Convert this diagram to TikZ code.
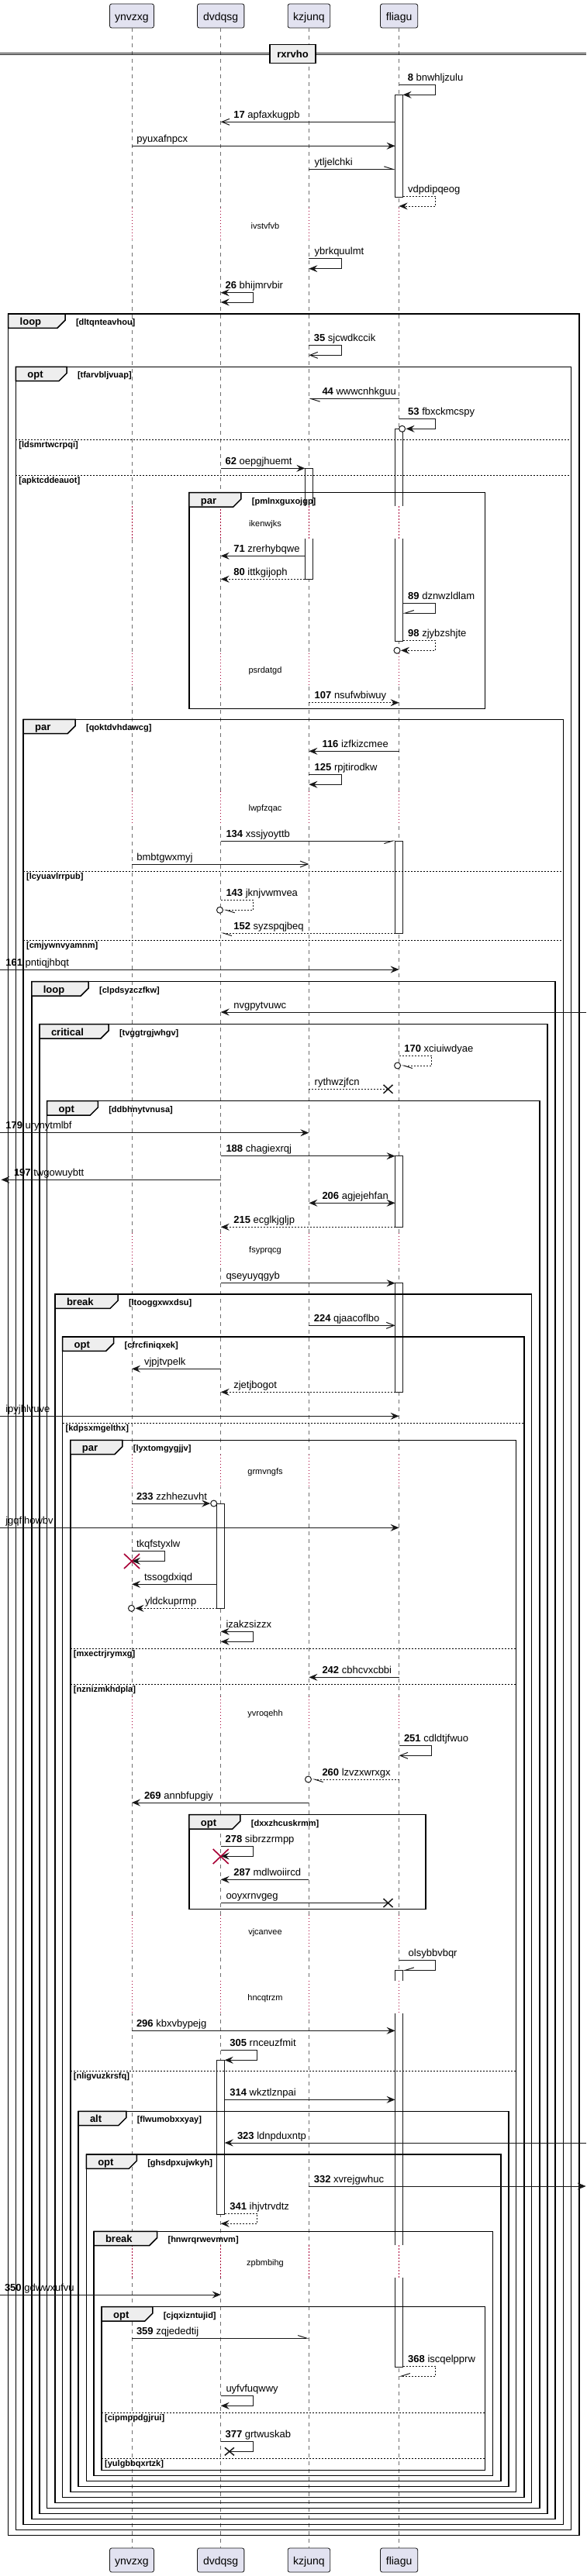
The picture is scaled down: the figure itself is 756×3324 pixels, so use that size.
\documentclass[tikz,border=0pt]{standalone}
\usepackage{fontspec}
\setmainfont{Liberation Sans}
\usetikzlibrary{arrows.meta}
\definecolor{linec}{HTML}{181818}
\definecolor{lifec}{HTML}{707070}
\definecolor{partfill}{HTML}{E2E2F0}
\definecolor{tabfill}{HTML}{EEEEEE}
\definecolor{delayc}{HTML}{A80036}
\tikzset{
 every node/.style={inner sep=0pt, outer sep=0pt},
 lifel/.style={draw=lifec, line width=0.7pt, dash pattern=on 5pt off 5pt},
 delayl/.style={draw=delayc, line width=0.9pt, dash pattern=on 1.2pt off 2.8pt},
 actb/.style={draw=linec, fill=white, line width=0.8pt},
 msg/.style={draw=linec, line width=1pt},
 dmsg/.style={msg, dash pattern=on 2pt off 2pt},
 fa/.style={-{Stealth[length=11pt,width=9pt,inset=4pt]}},
 fab/.style={{Stealth[length=11pt,width=9pt,inset=4pt]}-{Stealth[length=11pt,width=9pt,inset=4pt]}},
 oa/.style={-{Straight Barb[length=10pt,width=8pt]}},
 hl/.style={-{Straight Barb[harpoon,length=11pt,width=7pt]}},
 hr/.style={-{Straight Barb[harpoon,swap,length=11pt,width=7pt]}},
 mtxt/.style={font=\fontsize{13}{15}\selectfont, anchor=base west},
 dtxt/.style={font=\fontsize{11}{13}\selectfont, anchor=base},
 flab/.style={font=\bfseries\fontsize{13}{15}\selectfont, anchor=base west},
 glab/.style={font=\bfseries\fontsize{11}{13}\selectfont, anchor=base west},
 fragline/.style={draw=black, line width=1.5pt},
 sepl/.style={draw=black, line width=0.8pt, dash pattern=on 2pt off 2pt},
 part/.style={draw=linec, fill=partfill, line width=0.8pt, rounded corners=2.5pt, minimum height=31pt, font=\fontsize{14}{16}\selectfont, text height=14.4pt, text depth=2pt},
 xl/.style={draw=linec, line width=1.5pt},
 rxl/.style={draw=delayc, line width=1.6pt},
}
\newcommand{\hmsg}[6]{\draw[#1] (#2,#4) -- (#3,#4); \node[mtxt] at (#5,#4-5) {#6};}
\newcommand{\smsg}[8]{\draw[#1] (#2,#3) -- (#4,#3) -- (#4,#5) -- (#6,#5); \node[mtxt] at (#7,#3-5) {#8};}
\newcommand{\tipcirc}[2]{\draw[msg, fill=white] (#1,#2) circle[radius=4pt];}
\newcommand{\lostx}[2]{\draw[xl] (#1-6,#2-5.5) -- (#1+6,#2+5.5) (#1-6,#2+5.5) -- (#1+6,#2-5.5);}
\newcommand{\destroyx}[2]{\draw[rxl] (#1-10,#2-9.5) -- (#1+10,#2+9.5) (#1-10,#2+9.5) -- (#1+10,#2-9.5);}
\newcommand{\delayseg}[4]{%
  \foreach \lx in {170,284.7,398.4,514.6} {\fill[white] (\lx-6,#1) rectangle (\lx+6,#2); \draw[delayl] (\lx,#1) -- (\lx,#2);}
  \node[dtxt] at (342,#3+4.5) {#4};}
\newcommand{\fragbox}[7]{%
  \pgfmathsetmacro{\fragTR}{#1+#5}%
  \pgfmathsetmacro{\fragTS}{#1+#5-10}%
  \pgfmathsetmacro{\fragTA}{#2+8.3}%
  \pgfmathsetmacro{\fragTB}{#2+18.3}%
  \pgfmathsetmacro{\fragLX}{#1+15}%
  \pgfmathsetmacro{\fragLY}{#2+14.3}%
  \pgfmathsetmacro{\fragGX}{#1+#5+14}%
  \draw[fragline] (#1,#2) rectangle (#3,#4);
  \filldraw[fragline, fill=tabfill] (#1,#2) -- (\fragTR,#2) -- (\fragTR,\fragTA) -- (\fragTS,\fragTB) -- (#1,\fragTB) -- cycle;
  \node[flab] at (\fragLX,\fragLY) {#6};
  \node[glab] at (\fragGX,\fragLY) {#7};}
\newcommand{\fragsep}[4]{%
  \draw[sepl] (#1,#3) -- (#2,#3);
  \node[glab] at (#1+4,#3+10.4) {#4};}
\begin{document}
\begin{tikzpicture}[x=1pt,y=-1pt]
\fill[white] (0,0) rectangle (756,3324);
\useasboundingbox (0,0) rectangle (756,3324);
% participants
\node[part, minimum width=56.9pt] (p1) at (170,20.5) {ynvzxg};
\node[part, minimum width=60.3pt] (p2) at (284.7,20.5) {dvdqsg};
\node[part, minimum width=54.5pt] (p3) at (398.4,20.5) {kzjunq};
\node[part, minimum width=48.1pt] (p4) at (514.6,20.5) {fliagu};
\node[part, minimum width=56.9pt] (q1) at (170,3303.5) {ynvzxg};
\node[part, minimum width=60.3pt] (q2) at (284.7,3303.5) {dvdqsg};
\node[part, minimum width=54.5pt] (q3) at (398.4,3303.5) {kzjunq};
\node[part, minimum width=48.1pt] (q4) at (514.6,3303.5) {fliagu};
\draw[lifel] (p1.south) -- (q1.north);
\draw[lifel] (p2.south) -- (q2.north);
\draw[lifel] (p3.south) -- (q3.north);
\draw[lifel] (p4.south) -- (q4.north);
% divider
\draw[linec, line width=1pt] (0,68.3) -- (756,68.3) (0,71) -- (756,71);
\node[draw=black, line width=1.5pt, fill=tabfill, minimum width=59pt, minimum height=24.4pt, font=\bfseries\fontsize{13}{15}\selectfont] (divd) at (377.5,69.5) {rxrvho};
% activations
\draw[actb] (509.6,122.3) rectangle (519.6,254);
\draw[actb] (509.6,553.3) rectangle (519.6,827.3);
\draw[actb] (393.4,604.3) rectangle (403.4,747.3);
\draw[actb] (509.6,1085) rectangle (519.6,1204);
\draw[actb] (509.6,1491.7) rectangle (519.6,1583.3);
\draw[actb] (509.6,1655.7) rectangle (519.6,1796.3);
\draw[actb] (279.7,1940) rectangle (289.7,2075.3);
\draw[actb] (509.6,2542.3) rectangle (519.6,3054);
\draw[actb] (279.7,2658.3) rectangle (289.7,2857);
% delays
\delayseg{268}{310}{291}{ivstvfvb}
\delayseg{653.3}{695}{675}{ikenwjks}
\delayseg{843}{885}{864.3}{psrdatgd}
\delayseg{1021}{1063}{1042.3}{lwpfzqac}
\delayseg{1591}{1633}{1612.3}{fsyprqcg}
\delayseg{1877}{1919}{1898.3}{grmvngfs}
\delayseg{2189}{2231}{2210}{yvroqehh}
\delayseg{2471}{2513}{2492.3}{vjcanvee}
\delayseg{2556}{2598}{2577.3}{hncqtrzm}
\delayseg{2897.3}{2939.3}{2919.3}{zpbmbihg}
% fragments
\fragbox{10.7}{405}{746.8}{3271.3}{73.3}{loop}{[dltqnteavhou]}
\fragbox{20.4}{473.3}{736.6}{3264.3}{65.6}{opt}{[tfarvbljvuap]}
\fragsep{20.4}{736.6}{567.3}{[ldsmrtwcrpqi]}
\fragsep{20.4}{736.6}{613.3}{[apktcddeauot]}
\fragbox{243.9}{635.7}{625.4}{914.3}{67}{par}{[pmlnxguxojgp]}
\fragbox{30.1}{928.3}{726.4}{3257.3}{67}{par}{[qoktdvhdawcg]}
\fragsep{30.1}{726.4}{1124}{[lcyuavlrrpub]}
\fragsep{30.1}{726.4}{1213.3}{[cmjywnvyamnm]}
\fragbox{40.8}{1266.7}{716.2}{3250.3}{73.4}{loop}{[clpdsyzczfkw]}
\fragbox{51}{1321.7}{706}{3243.3}{89}{critical}{[tvggtrgjwhgv]}
\fragbox{60.7}{1420.7}{695.8}{3236.3}{65.6}{opt}{[ddbhnytvnusa]}
\fragbox{71}{1670}{685.6}{3229.3}{81}{break}{[ltooggxwxdsu]}
\fragbox{80.7}{1725}{676}{3222.3}{66}{opt}{[cfrcfiniqxek]}
\fragsep{80.7}{676}{1836.3}{[kdpsxmgelthx]}
\fragbox{90.9}{1858.3}{665.7}{3215.3}{67}{par}{[lyxtomgygjjv]}
\fragsep{90.9}{665.7}{2127.3}{[mxectrjrymxg]}
\fragsep{90.9}{665.7}{2173.3}{[nznizmkhdpla]}
\fragsep{90.9}{665.7}{2672.3}{[nligvuzkrsfq]}
\fragbox{243.9}{2341.7}{549}{2463.3}{66}{opt}{[dxxzhcuskrmm]}
\fragbox{101}{2724.3}{656}{3208.3}{61.8}{alt}{[flwumobxxyay]}
\fragbox{111.3}{2780}{645.8}{3201.3}{65}{opt}{[ghsdpxujwkyh]}
\fragbox{121}{2879.3}{635.6}{3194.3}{81.6}{break}{[hnwrqrwevmvm]}
\fragbox{131.2}{2976.7}{625.4}{3187.3}{65.6}{opt}{[cjqxizntujid]}
\fragsep{131.2}{625.4}{3113.3}{[cipmppdgjrui]}
\fragsep{131.2}{625.4}{3172.3}{[yulgbbqxrtzk]}
% messages
\smsg{msg,fa}{514.6}{109.3}{561.7}{122.3}{519.6}{525.8}{\textbf{8} bnwhljzulu}
\hmsg{msg,oa}{509.6}{284.7}{157.3}{301.3}{\textbf{17} apfaxkugpb}
\hmsg{msg,fa}{170}{509.6}{188.3}{176.4}{pyuxafnpcx}
\hmsg{msg,hl}{398.4}{509.6}{218.3}{405.7}{ytljelchki}
\smsg{dmsg,fa}{519.6}{253.3}{561.7}{266}{514.6}{526.2}{vdpdipqeog}
\smsg{msg,fa}{398.4}{333.3}{440.7}{346.7}{398.4}{405.7}{ybrkquulmt}
\smsg{msg,fab}{284.7}{377.7}{326.5}{390}{284.7}{290.6}{\textbf{26} bhijmrvbir}
\smsg{msg,oa}{398.4}{445.7}{440.7}{458.3}{398.4}{404.8}{\textbf{35} sjcwdkccik}
\hmsg{msg,hl}{514.6}{398.4}{514.7}{415.5}{\textbf{44} wwwcnhkguu}
\smsg{msg,fa}{514.6}{540.7}{561.7}{553.3}{523.6}{526.2}{\textbf{53} fbxckmcspy}
\tipcirc{518.6}{553.3}
\hmsg{msg,fa}{284.7}{393.4}{604.3}{290.6}{\textbf{62} oepgjhuemt}
\hmsg{msg,fa}{393.4}{284.7}{717.3}{301.3}{\textbf{71} zrerhybqwe}
\hmsg{dmsg,fa}{393.4}{284.7}{747.3}{301.3}{\textbf{80} ittkgijoph}
\smsg{msg,hr}{519.6}{778.3}{561.7}{791}{519.6}{526.2}{\textbf{89} dznwzldlam}
\smsg{dmsg,fa}{519.6}{826.7}{561.7}{839.3}{517}{526.2}{\textbf{98} zjybzshjte}
\tipcirc{512}{839.3}
\hmsg{dmsg,fa}{398.4}{514.6}{906.7}{405.7}{\textbf{107} nsufwbiwuy}
\hmsg{msg,fa}{514.6}{398.4}{969.3}{415.5}{\textbf{116} izfkizcmee}
\smsg{msg,fa}{398.4}{999.3}{440.7}{1012.3}{398.4}{405.7}{\textbf{125} rpjtirodkw}
\hmsg{msg,hr}{284.7}{509.6}{1085}{291.5}{\textbf{134} xssjyoyttb}
\hmsg{msg,oa}{170}{398.4}{1115}{176.4}{bmbtgwxmyj}
\smsg{dmsg,hl}{284.7}{1161.3}{326.5}{1174.3}{288.5}{291.5}{\textbf{143} jknjvwmvea}
\tipcirc{283.5}{1174.3}
\hmsg{dmsg,hl}{509.6}{284.7}{1204}{301.3}{\textbf{152} syzspqjbeq}
\hmsg{msg,fa}{0}{514.6}{1251}{7.3}{\textbf{161} pntiqjhbqt}
\hmsg{msg,fa}{756}{284.7}{1306}{301.3}{nvgpytvuwc}
\smsg{dmsg,hl}{514.6}{1362.7}{556.9}{1375}{517.6}{521.4}{\textbf{170} xciuiwdyae}
\tipcirc{512.6}{1375}
\hmsg{dmsg}{398.4}{500.5}{1405.3}{405.7}{rythwzjfcn}
\lostx{500.5}{1405.3}
\hmsg{msg,fa}{0}{398.4}{1461.7}{7.3}{\textbf{179} urynytmlbf}
\hmsg{msg,fa}{284.7}{509.6}{1491.7}{291.5}{\textbf{188} chagiexrqj}
\hmsg{msg,fa}{284.7}{1.5}{1522.3}{18}{\textbf{197} twgowuybtt}
\hmsg{msg,fab}{398.4}{509.6}{1552.3}{415.5}{\textbf{206} agjejehfan}
\hmsg{dmsg,fa}{509.6}{284.7}{1583.3}{301.3}{\textbf{215} ecglkjgljp}
\hmsg{msg,fa}{284.7}{509.6}{1655.7}{291.5}{qseyuyqgyb}
\hmsg{msg,oa}{398.4}{509.6}{1710.3}{404.8}{\textbf{224} qjaacoflbo}
\hmsg{msg,fa}{284.7}{170}{1766.3}{186}{vjpjtvpelk}
\hmsg{dmsg,fa}{509.6}{284.7}{1796.3}{301.3}{zjetjbogot}
\hmsg{msg,fa}{0}{514.6}{1827.3}{7.3}{ipyjhlvuve}
\hmsg{msg,fa}{170}{271.2}{1940}{176}{\textbf{233} zzhhezuvht}
\tipcirc{275.7}{1940}
\hmsg{msg,fa}{0}{514.6}{1971.3}{7.3}{jgqfihowbv}
\smsg{msg,fa}{170}{2001}{212.3}{2014.3}{170}{176}{tkqfstyxlw}
\destroyx{170}{2014.5}
\hmsg{msg,fa}{279.7}{170}{2044.3}{186}{tssogdxiqd}
\hmsg{dmsg,fa}{279.7}{174.5}{2075.3}{187}{yldckuprmp}
\tipcirc{169.5}{2075.3}
\smsg{msg,fab}{284.7}{2105.3}{326.5}{2118.3}{284.7}{291.5}{izakzsizzx}
\hmsg{msg,fa}{514.6}{398.4}{2164.3}{415.5}{\textbf{242} cbhcvxcbbi}
\smsg{msg,oa}{514.6}{2252.7}{556.9}{2265.3}{514.6}{521}{\textbf{251} cdldtjfwuo}
\hmsg{dmsg,hl}{514.6}{402.5}{2296}{415.5}{\textbf{260} lzvzxwrxgx}
\tipcirc{397.5}{2296}
\hmsg{msg,fa}{398.4}{170}{2326}{186}{\textbf{269} annbfupgiy}
\smsg{msg,fa}{284.7}{2382.3}{326.5}{2395}{284.7}{290.6}{\textbf{278} sibrzzrmpp}
\destroyx{284.7}{2395.5}
\hmsg{msg,fa}{398.4}{284.7}{2425.3}{301.3}{\textbf{287} mdlwoiircd}
\hmsg{msg}{284.7}{500.5}{2455.3}{291.5}{ooyxrnvgeg}
\lostx{500.5}{2455.5}
\smsg{msg,hr}{514.6}{2529.3}{561.7}{2542.3}{519.6}{526.7}{olsybbvbqr}
\hmsg{msg,fa}{170}{509.6}{2620.3}{176}{\textbf{296} kbxvbypejg}
\smsg{msg,fa}{284.7}{2645.3}{331.9}{2658.3}{289.7}{296.4}{\textbf{305} rnceuzfmit}
\hmsg{msg,fa}{289.7}{509.6}{2709.3}{296.4}{\textbf{314} wkztlznpai}
\hmsg{msg,fa}{756}{289.7}{2765}{306}{\textbf{323} ldnpduxntp}
\hmsg{msg,fa}{398.4}{755.6}{2821}{404.8}{\textbf{332} xvrejgwhuc}
\smsg{dmsg,fa}{289.7}{2856.3}{331.9}{2869.3}{284.7}{296.4}{\textbf{341} ihjvtrvdtz}
\hmsg{msg,fa}{0}{284.7}{2961}{6}{\textbf{350} gdwwxufvu}
\hmsg{msg,hl}{170}{398.4}{3017}{176}{\textbf{359} zqjededtij}
\smsg{dmsg,hr}{519.6}{3053.3}{561.7}{3066}{514.6}{526.2}{\textbf{368} iscqelpprw}
\smsg{msg,fa}{284.7}{3091}{326.5}{3104.3}{284.7}{291.5}{uyfvfuqwwy}
\smsg{msg}{284.7}{3150.7}{326.5}{3163.3}{295.9}{290.6}{\textbf{377} grtwuskab}
\draw[xl] (289.9,3158.3) -- (301.9,3168.3) (289.9,3168.3) -- (301.9,3158.3);
\end{tikzpicture}
\end{document}
